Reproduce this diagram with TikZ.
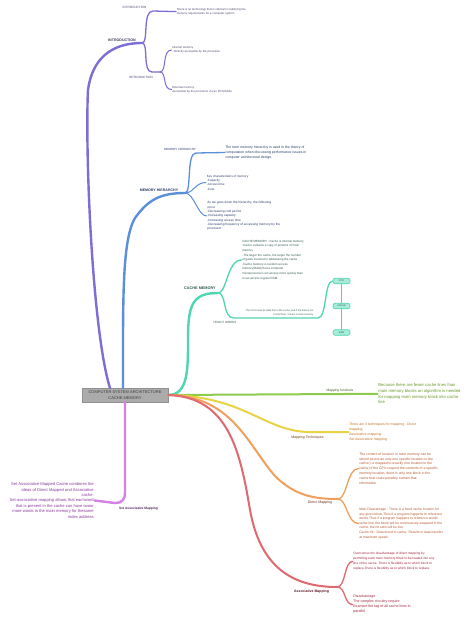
\documentclass[tikz,border=0pt]{standalone}
\usepackage{fontspec}
\setmainfont{Liberation Sans}
\newcommand\myfs[2]{\fontsize{#1}{#2}\selectfont}
\definecolor{introc}{HTML}{7B6FD6}
\definecolor{memc}{HTML}{5B8EDB}
\definecolor{cachec}{HTML}{4DD6B0}
\definecolor{cachefill}{HTML}{A6ECD8}
\definecolor{funcc}{HTML}{8DCB4B}
\definecolor{techc}{HTML}{E9D244}
\definecolor{directc}{HTML}{F0A05C}
\definecolor{assocc}{HTML}{E06870}
\definecolor{setc}{HTML}{D480E8}
\definecolor{introtxt}{HTML}{4A4A70}
\definecolor{memtxt}{HTML}{2C3E6E}
\definecolor{cachetxt}{HTML}{2F5A52}
\definecolor{functxt}{HTML}{6B9A2B}
\definecolor{techtxt}{HTML}{C2701E}
\definecolor{directtxt}{HTML}{B5552E}
\definecolor{assoctxt}{HTML}{A3233F}
\definecolor{settxt}{HTML}{8A3A9E}
\definecolor{rootgray}{HTML}{ABABAB}
\definecolor{roottext}{HTML}{3E3E3E}
\begin{document}
\begin{tikzpicture}[x=1pt,y=-1pt,line cap=round,
  leaf/.style={inner sep=0.8pt,outer sep=0pt,align=left,anchor=west},
  leafr/.style={inner sep=0.8pt,outer sep=0pt,align=right,anchor=east},
  lbl/.style={inner sep=0pt},
  mainw/.style={line width=2.4pt},
  sidew/.style={line width=2pt},
  subw/.style={line width=1.3pt},
  leafw/.style={line width=1pt},
  membox/.style={draw=cachec,fill=cachefill,line width=0.6pt,rounded corners=2pt,
    minimum width=17pt,minimum height=5.5pt,inner sep=0pt,font=\myfs{2.4}{3},text=cachetxt}]
\useasboundingbox[fill=white] (0,0) rectangle (474,622);

% root
\node[fill=rootgray,draw=rootgray!85!black,line width=0.3pt,text=roottext,minimum width=86pt,minimum height=14pt,
  inner sep=0pt,align=center,font=\myfs{4}{5.6}] (root) at (125,395) {COMPUTER SYSTEM ARCHITECTURE\\CACHE MEMORY};

% ---------------- INTRODUCTION ----------------
\coordinate (rI) at (110,388);
\coordinate (iK) at (88,90);
\coordinate (iB) at (142,43);
\coordinate (iL) at (160,72);
\node[leaf,font=\myfs{2.9}{4.7},text=introtxt] (iUt) at (176,11.6)
  {There is no technology that is optimal in satisfying the\\memory requirements for a computer system};
\node[leaf,font=\myfs{2.9}{4.4},text=introtxt] (iL1t) at (171.5,50)
  {Internal memory\\ - Directly accessible by the processor};
\node[leaf,font=\myfs{2.9}{4.0},text=introtxt] (iL2t) at (171.5,89.5)
  {External memory\\Accessible by the processor via an I/O Module};
\draw[introc,mainw] (rI) .. controls (92,330) and (85,150) .. (iK) .. controls (92,60) and (110,43) .. (iB);
\draw[introc,subw] (iB) .. controls (149,43) and (142,11) .. (153,11) -- (iUt.west);
\draw[introc,subw] (iB) .. controls (149,43) and (142,72) .. (152,72) -- (iL);
\draw[introc,leafw] (iL) .. controls (167,72) and (162,50) .. (iL1t.west);
\draw[introc,leafw] (iL) .. controls (167,72) and (162,89.5) .. (iL2t.west);
\node[lbl,font=\bfseries\myfs{3.6}{4},text=introtxt!80!black] (introN) at (122,40.3) {INTRODUCTION};
\node[lbl,font=\myfs{3.1}{4},text=introtxt] (introU) at (134.5,7.2) {INTRODUCTION};
\node[lbl,font=\myfs{3.1}{4},text=introtxt] (introL) at (141,77.2) {INTRODUCTION};

% ---------------- MEMORY HIERARCHY ----------------
\coordinate (rM) at (123,388);
\coordinate (mK) at (135,218);
\coordinate (mB) at (185,193);
\node[leaf,font=\myfs{3.5}{5.4},text=memtxt] (mUt) at (224.5,152.5)
  {The term memory hierarchy is used in the theory of\\computation when discussing performance issues in\\computer architectural design.};
\node[leaf,font=\myfs{3.1}{4.4},text=memtxt] (mKt) at (206,182.5)
  {Key characteristics of memory\\-Capacity\\-Access time\\-Cost};
\node[leaf,font=\myfs{3.2}{4.35},text=memtxt] (mAt) at (206.5,216)
  {As we goes down the hierarchy, the following\\occur\\-Decreasing cost per bit\\-Increasing capacity\\-Increasing access time\\-Decreasing frequency of accessing memory by the\\processor};
\draw[memc,mainw] (rM) .. controls (123,300) and (122,240) .. (mK) .. controls (148,200) and (160,193) .. (mB);
\draw[memc,subw] (mB) .. controls (192,193) and (186,153) .. (196,153) -- (mUt.west);
\draw[memc,leafw] (mB) .. controls (194,193) and (195,182.5) .. (mKt.west);
\draw[memc,leafw] (mB) .. controls (194,193) and (198,216) .. (mAt.west);
\node[lbl,font=\bfseries\myfs{3.6}{4},text=memtxt] (memN) at (159,190.5) {MEMORY HIERARCHY};
\node[lbl,font=\myfs{3.0}{4},text=memtxt] (memU) at (180,149.3) {MEMORY HIERARCHY};

% ---------------- CACHE MEMORY ----------------
\coordinate (cK) at (188,340);
\coordinate (cB) at (218,293);
\coordinate (cL1) at (234,318);
\coordinate (cL2) at (318,318);
\node[leaf,font=\myfs{3.0}{4.6},text=cachetxt] (cUt) at (241.5,260)
  {CACHE MEMORY : Cache is internal memory\\-Cache contains a copy of portions of main\\memory\\-The larger the cache, the larger the number\\of gates involved in addressing the cache\\-Cache memory is random access\\memory(RAM) that a computer\\microprocessor can access more quickly than\\it can access regular RAM.};
\node[membox] (cpu) at (341.5,281) {CPU};
\node[membox] (cache) at (341.5,306) {CACHE};
\node[membox] (ram) at (341.5,332.5) {RAM};
\draw[cachec,mainw] (root.east) .. controls (188,395) and (188,370) .. (cK) .. controls (188,305) and (192,293) .. (cB);
\draw[cachec,subw] (cB) .. controls (227,293) and (227,260) .. (cUt.west);
\draw[cachec,subw] (cB) .. controls (227,293) and (222,318) .. (cL1) -- (cL2) .. controls (327,318) and (324,281) .. (cpu.west);
\draw[cachec,leafw] (cpu) -- (cache) -- (ram);
\node[lbl,font=\bfseries\myfs{3.8}{4},text=cachetxt] (cacheN) at (200,288.5) {CACHE MEMORY};
\node[lbl,font=\myfs{3.0}{4},text=cachetxt] (howN) at (225,322.5) {HOW IT WORKS};
\node[leafr,anchor=south east,font=\myfs{2.45}{4.1},text=cachetxt] (howT) at (314,316.6)
  {The CPU looks for data first in the cache, and if the data is not\\found there, it looks in main memory};

% ---------------- MAPPING FUNCTIONS ----------------
\node[leaf,font=\myfs{4.2}{5.6},text=functxt] (mfT) at (377.5,393.8)
  {Because there are fewer cache lines than\\main memory blocks an algorithm is needed\\for mapping main memory block into cache\\line};
\draw[funcc,sidew] (root.east) -- (mfT.west);
\node[lbl,font=\myfs{3.3}{4},text=functxt!60!black] (mfN) at (340,390.6) {Mapping functions};

% ---------------- MAPPING TECHNIQUES ----------------
\node[leaf,font=\myfs{3.45}{4.9},text=techtxt] (mtT) at (348.5,432)
  {There are 3 techniques for mapping : Direct\\mapping\\Associative mapping\\Set Associative mapping};
\draw[techc,sidew] (root.east) .. controls (245,396) and (265,432) .. (310,432) -- (mtT.west);
\node[lbl,font=\myfs{3.5}{4},text=techtxt!55!black] (mtN) at (307.5,437.5) {Mapping Techniques};

% ---------------- DIRECT MAPPING ----------------
\coordinate (dK) at (275,476);
\coordinate (dB) at (338,499);
\node[leaf,font=\myfs{3.45}{4.8},text=directtxt] (dUt) at (358.5,468.5)
  {The content of location in main memory can be\\stored at one an only one specific location in the\\cache( i.e mapped to exactly one location in the\\cache).If the CPU request the contents of a specific\\memory location, there is only one block in the\\cache that could possibly contain that\\information};
\node[leaf,font=\myfs{3.35}{4.6},text=directtxt] (dLt) at (358.5,523.5)
  {Main Disavantage : There is a fixed cache location for\\any given block.Thus if a program happens to reference\\words.Thus if a program happens to reference words\\same line, the block will be continuously swapped in the\\cache, the hit ratio will be low.\\Cache hit : Data found in cache. Results in data transfer\\at maximum speed.};
\draw[directc,sidew] (root.east) .. controls (232,396) and (248,445) .. (dK) .. controls (295,496) and (315,499) .. (dB);
\draw[directc,subw] (dB) .. controls (347,499) and (347,468.5) .. (dUt.west);
\draw[directc,subw] (dB) .. controls (347,499) and (347,523.5) .. (dLt.west);
\node[lbl,font=\myfs{3.6}{4},text=directtxt!60!black] (dN) at (320,502.6) {Direct Mapping};

% ---------------- ASSOCIATIVE MAPPING ----------------
\coordinate (aK) at (250,510);
\coordinate (aB) at (337,587);
\node[leaf,font=\myfs{3.2}{5.0},text=assoctxt] (aUt) at (352.5,561.5)
  {Overcomes the disadvantage of direct mapping by\\permitting each main memory block to be loaded into any\\line of the cache. There is flexibility as to which block to\\replace.There is flexibility as to which block to replace};
\node[leaf,font=\myfs{3.6}{5.0},text=assoctxt] (aLt) at (352.5,604.5)
  {Disadvantage\\The complex circuitry require\\Examine the tag of all cache lines in\\parallel};
\draw[assocc,sidew] (root.east) .. controls (228,397) and (240,450) .. (aK) .. controls (260,565) and (290,587) .. (aB);
\draw[assocc,subw] (aB) .. controls (346,587) and (344,561.5) .. (aUt.west);
\draw[assocc,subw] (aB) .. controls (346,587) and (344,604.5) .. (aLt.west);
\node[lbl,font=\bfseries\myfs{3.5}{4},text=assoctxt!55!black] (aN) at (311.5,591.5) {Associative Mapping};

% ---------------- SET ASSOCIATIVE MAPPING ----------------
\coordinate (sK) at (125,492);
\coordinate (sC) at (115,503);
\node[leafr,font=\myfs{4.1}{5.35},text=settxt] (sT) at (94.5,500.5)
  {Set Associative Mapped Cache combines the\\ideas of Direct Mapped and Associative\\cache.\\Set-associative mapping allows that eachword\\that is present in the cache can have twoor\\more words in the main memory for thesame\\index address};
\draw[setc,mainw] (root.south) -- (sK) .. controls (125,500) and (122,503) .. (sC) -- (sT.east);
\node[lbl,font=\bfseries\myfs{3.3}{4},text=settxt!60!black] (sN) at (138.5,508.5) {Set Associative Mapping};
\end{tikzpicture}
\end{document}
